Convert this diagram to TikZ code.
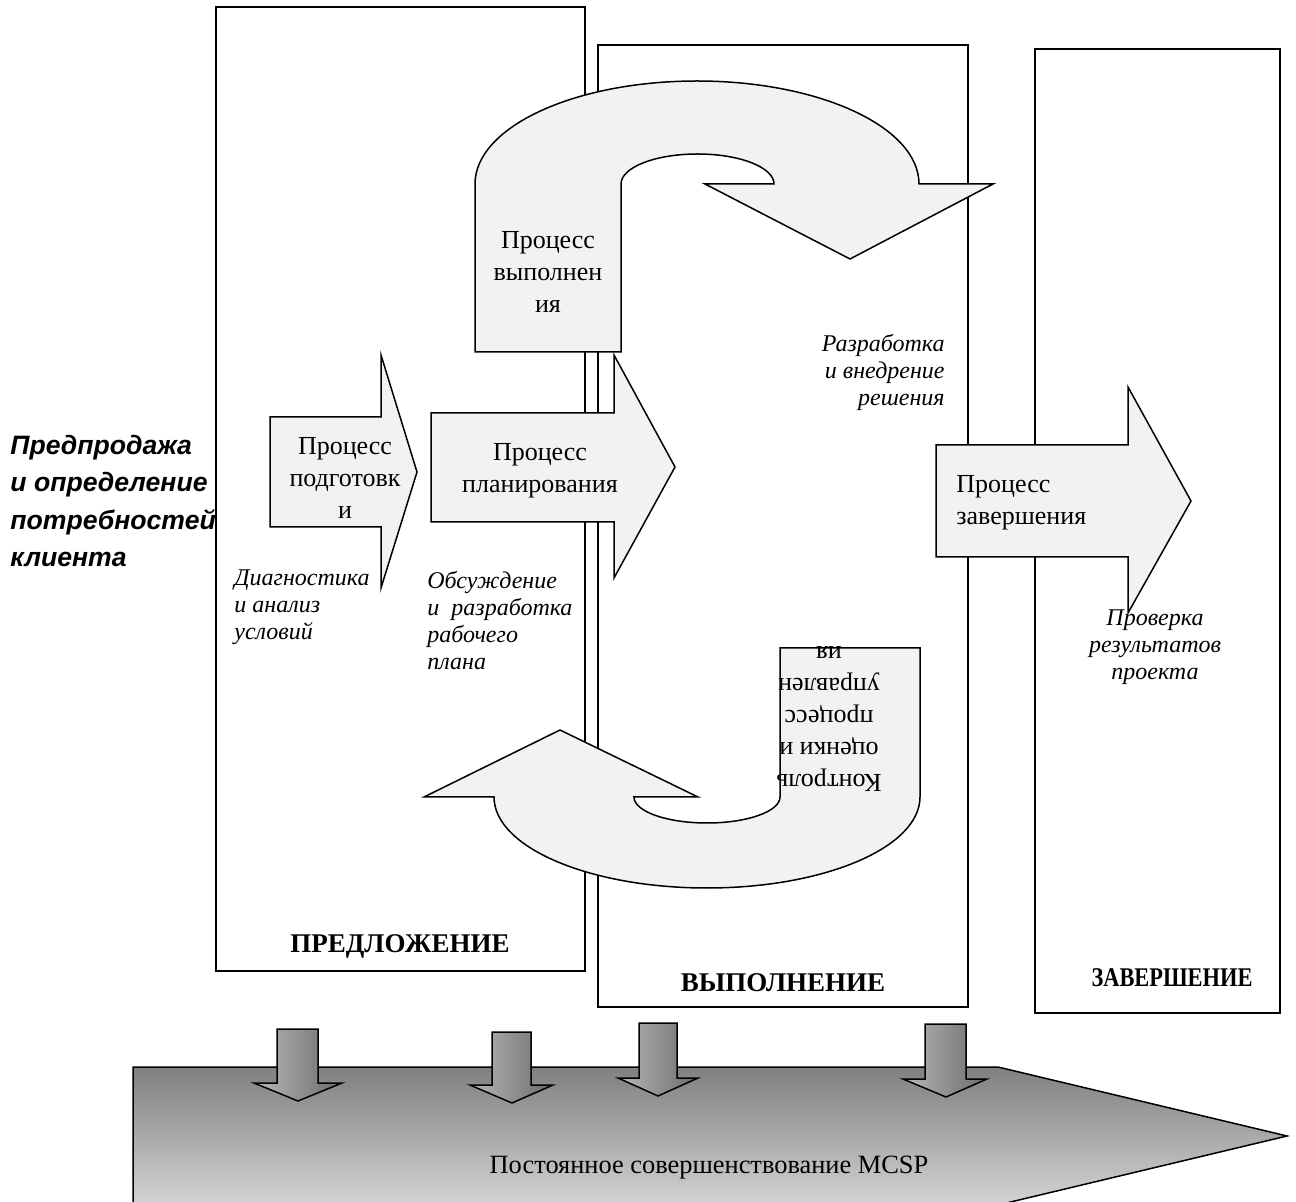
\documentclass[tikz,border=0pt]{standalone}
\usepackage{fontspec}
\setmainfont{Liberation Serif}
\newfontfamily\arialfont{Liberation Sans}
\usepackage{tikz}

\begin{document}
\begin{tikzpicture}[x=0.5pt, y=-0.5pt,
    phase/.style={draw, line width=1.15pt},
    blockarrow/.style={draw, line width=0.75pt, fill=black!5},
    feedarrow/.style={draw, line width=0.75pt, left color=black!28, right color=black!58},
    procnode/.style={inner sep=0pt, align=center, font=\fontsize{13}{16}\selectfont},
    notenode/.style={inner sep=0pt, font=\fontsize{12}{13.5}\selectfont\itshape},
    phasenode/.style={inner sep=0pt, font=\fontsize{13.5}{16}\selectfont\bfseries}]

    \useasboundingbox (0,0) rectangle (1296,1202);
    \clip (0,0) rectangle (1296,1202);

    % Phasenrahmen (drei Spalten)
    \draw[phase] (216,7) rectangle (585,971);
    \draw[phase] (598,45) rectangle (968,1007);
    \draw[phase] (1035,49) rectangle (1280,1013);

    % Grosser Pfeil unten (Verbesserung)
    \draw[line width=0.75pt, top color=black!50, bottom color=black!17]
        (133,1067) -- (998,1067) -- (1287,1136) -- (998,1205) -- (133,1205) -- cycle;

    % Kleine Pfeile nach unten
    \draw[feedarrow] (277,1029) -- (318,1029) -- (318,1083) -- (342,1083) -- (298,1101) -- (254,1083) -- (277,1083) -- cycle;
    \draw[feedarrow] (492,1032) -- (531,1032) -- (531,1085) -- (553,1085) -- (512,1103) -- (470,1085) -- (492,1085) -- cycle;
    \draw[feedarrow] (639,1023) -- (677,1023) -- (677,1078) -- (698,1078) -- (658,1096) -- (618,1078) -- (639,1078) -- cycle;
    \draw[feedarrow] (925,1024) -- (966,1024) -- (966,1079) -- (987,1079) -- (946,1097) -- (903,1079) -- (925,1079) -- cycle;

    % Blockpfeile nach rechts
    \draw[blockarrow] (270,417) -- (381,417) -- (381,355) -- (417,472) -- (381,588) -- (381,527) -- (270,527) -- cycle;
    \draw[blockarrow] (431,413) -- (614,413) -- (614,355) -- (675,467) -- (614,578) -- (614,522) -- (431,522) -- cycle;
    \draw[blockarrow] (936,445) -- (1128,445) -- (1128,387) -- (1191,501) -- (1128,613) -- (1128,557) -- (936,557) -- cycle;

    % U-Pfeil oben (Ausfuehrung)
    \draw[blockarrow] (475,352) -- (475,184)
        .. controls (475,127.1) and (574.4,81) .. (697,81)
        .. controls (819.6,81) and (919,127.1) .. (919,184)
        -- (993,184) -- (850,259) -- (705,184) -- (774,184)
        .. controls (774,167.4) and (739.8,154) .. (697.5,154)
        .. controls (655.2,154) and (621,167.4) .. (621,184)
        -- (621,352) -- cycle;

    % U-Pfeil unten (Kontrolle)
    \draw[blockarrow] (780,648) -- (920,648) -- (920,797)
        .. controls (920,847.3) and (824.6,888) .. (707,888)
        .. controls (589.4,888) and (494,847.3) .. (494,797)
        -- (424,797) -- (560,730) -- (698,797) -- (634,797)
        .. controls (634,811.4) and (666.7,823) .. (707,823)
        .. controls (747.3,823) and (780,811.4) .. (780,797)
        -- cycle;

    % Beschriftung Prozesse
    \node[procnode] (vyp) at (548,272) {Процесс\\выполнен\\ия};
    \node[procnode] (podg) at (345,478) {Процесс\\подготовк\\и};
    \node[procnode] (plan) at (540,471) {Процесс\\планирования};
    \node[procnode, anchor=west, align=left] (zav) at (956,503) {Процесс\\завершения};
    \node[procnode, rotate=180] (kontr) at (829,719) {Контроль\\оценки и\\процесс\\управлен\\ия};

    % Beschriftung Erlaeuterungen
    \node[notenode, anchor=west, align=left] (diag) at (234,607) {Диагностика\\и анализ\\условий};
    \node[notenode, anchor=west, align=left] (obs) at (427,621) {Обсуждение\\и\ \ разработка\\рабочего\\плана};
    \node[notenode, anchor=east, align=right] (razr) at (945,372) {Разработка\\и внедрение\\решения};
    \node[notenode, align=center] (prov) at (1155,647) {Проверка\\результатов\\проекта};

    % Presale-Text links
    \node[inner sep=0pt, anchor=west, align=left, font=\arialfont\fontsize{13.3}{18.75}\selectfont\bfseries\itshape] (presale) at (10,501)
        {Предпродажа\\и определение\\потребностей\\клиента};

    % Phasennamen
    \node[phasenode] (predl) at (400,946) {ПРЕДЛОЖЕНИЕ};
    \node[phasenode] (vypoln) at (783,983) {ВЫПОЛНЕНИЕ};
    \node[phasenode, xscale=0.83] (zaversh) at (1172,978) {ЗАВЕРШЕНИЕ};

    % Text im grossen Pfeil
    \node[procnode, font=\fontsize{13.2}{16}\selectfont] (mcsp) at (709,1168) {Постоянное совершенствование MCSP};

\end{tikzpicture}
\end{document}
